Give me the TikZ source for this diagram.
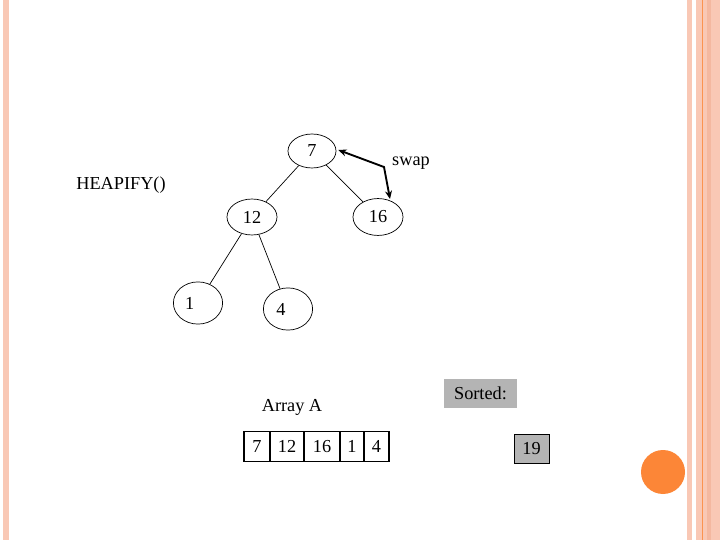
\documentclass[tikz,border=0pt]{standalone}
\usepackage{fontspec}
\setmainfont{Liberation Serif}
\usetikzlibrary{shapes.geometric,arrows.meta}
\definecolor{peach}{HTML}{F9C8B5}
\definecolor{peachdk}{HTML}{F4B8A0}
\definecolor{orangedot}{HTML}{FC8637}
\definecolor{greybox}{HTML}{B4B4B4}
\begin{document}
\begin{tikzpicture}[x=0.03cm,y=-0.03cm,
  every node/.style={font=\fontsize{15.6}{18}\selectfont},
  vert/.style={draw,ellipse,inner sep=0pt,line width=0.6pt},
  edge/.style={line width=0.6pt},
  cell/.style={draw,rectangle,line width=0.9pt,inner sep=0pt,minimum height=24.8pt},
  swaparrow/.style={line width=1.6pt,{Stealth[length=7pt,width=6pt]}-{Stealth[length=7pt,width=6pt]}}]
\useasboundingbox (0,0) rectangle (720,540);
\fill[white] (0,0) rectangle (720,540);
% decorative stripes
\fill[peach] (3,0) rectangle (9,540);
\fill[peach] (687,0) rectangle (692,540);
\fill[peach] (696,0) rectangle (720,540);
\fill[peachdk] (707,0) rectangle (711,540);
\draw[orangedot!80!peach,line width=0.5pt] (702,0) -- (702,540);
\fill[orangedot] (663,472) circle (22);
% tree
\node[vert,minimum width=41pt,minimum height=29pt] (n7) at (312,151) {7};
\node[vert,minimum width=42.7pt,minimum height=30.7pt] (n12) at (252,217) {12};
\node[vert,minimum width=42.7pt,minimum height=31.5pt] (n16) at (378,217) {16};
\node[vert,minimum width=42pt,minimum height=36pt,label={[xshift=-7pt]center:1}] (n1) at (198,303) {};
\node[vert,minimum width=42pt,minimum height=36pt,label={[xshift=-6pt]center:4}] (n4) at (288,309) {};
\draw[edge] (n7) -- (n12);
\draw[edge] (n7) -- (n16);
\draw[edge] (n12) -- (n1);
\draw[edge] (n12) -- (n4);
\coordinate (bend) at (384,167);
\draw[swaparrow] (n7.east) ++(2,-1) -- (bend) -- (390,199);
\node (swap) at (411,163) {swap};
\node (heap) at (121,185) {HEAPIFY()};
% array
\node (arr) at (292,407) {Array A};
\node[cell,minimum width=22.2pt] (a1) at (257,446.5) {7};
\node[cell,minimum width=29pt] (a2) at (287,446.5) {12};
\node[cell,minimum width=30.7pt] (a3) at (322,446.5) {16};
\node[cell,minimum width=20.5pt] (a4) at (352,446.5) {1};
\node[cell,minimum width=21.3pt] (a5) at (376.5,446.5) {4};
% sorted
\node[fill=greybox,minimum width=62.3pt,minimum height=24.8pt,inner sep=0pt] (sorted) at (480.5,393.5) {Sorted:};
\node[cell,fill=greybox,minimum width=29.9pt,line width=0.8pt] (s19) at (531.5,448.5) {19};
\end{tikzpicture}
\end{document}
